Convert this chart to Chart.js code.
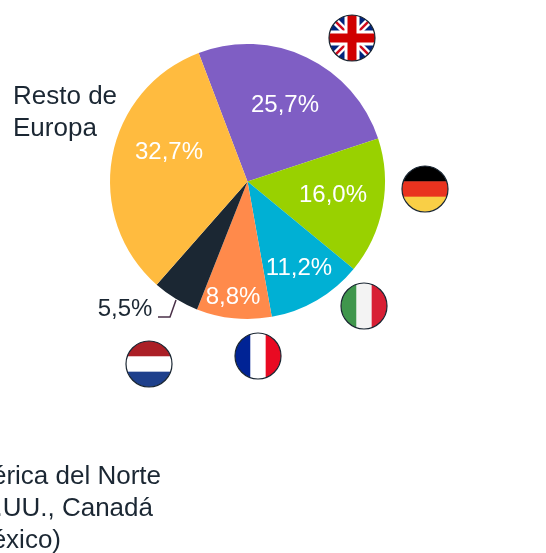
<!DOCTYPE html>
<html>
<head>
<meta charset="utf-8">
<style>
  html, body { margin: 0; padding: 0; background: #fff; overflow: hidden; }
  canvas { display: block; }
</style>
<script src="https://cdn.jsdelivr.net/npm/chart.js@4/dist/chart.umd.min.js"></script>
</head>
<body>
<canvas id="chart" width="546" height="553"></canvas>
<script>
// Data
const categories = ['Reino Unido', 'Alemania', 'Italia', 'Francia', 'Países Bajos', 'Resto de Europa'];
const shares = [25.7, 16.0, 11.2, 8.8, 5.5, 32.7];
const shareLabels = ['25,7%', '16,0%', '11,2%', '8,8%', '5,5%', '32,7%'];
const sliceColors = ['#7f5ec4', '#99d100', '#00b0d4', '#ff8a4b', '#1b2733', '#ffbb3f'];

const FONT = '"Liberation Sans", Arial, sans-serif';
const INK = '#1b2733';

// Waar de teksten staan, per taartpunt
const labelSpots = [[285, 105], [333, 195], [299, 268], [233, 297], [125, 309], [169, 152]];

function drawFlag(ctx, cx, cy, paint) {
    const r = 23;
    ctx.save();
    ctx.beginPath();
    ctx.arc(cx, cy, r, 0, Math.PI * 2);
    ctx.save();
    ctx.clip();
    paint(cx - r, cy - r, r * 2);
    ctx.restore();
    ctx.beginPath();
    ctx.arc(cx, cy, r, 0, Math.PI * 2);
    ctx.lineWidth = 1.2;
    ctx.strokeStyle = '#1b2733';
    ctx.stroke();
    ctx.restore();
}

function hStripes(ctx, colors) {
    return (x, y, s) => colors.forEach((c, i) => {
        ctx.fillStyle = c;
        ctx.fillRect(x, y + i * s / 3, s, s / 3 + 0.5);
    });
}

function vStripes(ctx, colors) {
    return (x, y, s) => colors.forEach((c, i) => {
        ctx.fillStyle = c;
        ctx.fillRect(x + i * s / 3, y, s / 3 + 0.5, s);
    });
}

function ukFlag(ctx) {
    return (x, y, s) => {
        const cx = x + s / 2, cy = y + s / 2;
        ctx.fillStyle = '#00247d';
        ctx.fillRect(x, y, s, s);
        const line = (x1, y1, x2, y2, w, c) => {
            ctx.beginPath();
            ctx.moveTo(x1, y1);
            ctx.lineTo(x2, y2);
            ctx.lineWidth = w;
            ctx.strokeStyle = c;
            ctx.stroke();
        };
        line(x, y, x + s, y + s, 7, '#fff');
        line(x + s, y, x, y + s, 7, '#fff');
        line(x, y, x + s, y + s, 2.5, '#cf0a1d');
        line(x + s, y, x, y + s, 2.5, '#cf0a1d');
        line(cx, y, cx, y + s, 15, '#fff');
        line(x, cy, x + s, cy, 15, '#fff');
        line(cx, y, cx, y + s, 9, '#d00000');
        line(x, cy, x + s, cy, 9, '#d00000');
    };
}

const annotations = {
    id: 'annotations',
    afterDraw(chart) {
        const ctx = chart.ctx;
        ctx.save();
        ctx.textBaseline = 'middle';
        ctx.textAlign = 'center';
        ctx.font = '24px ' + FONT;

        shareLabels.forEach((text, i) => {
            ctx.fillStyle = i === 4 ? INK : '#fff';
            ctx.fillText(text, labelSpots[i][0], labelSpots[i][1]);
        });

        // Verbindingslijn naar het kleine segment
        ctx.beginPath();
        ctx.moveTo(158, 317);
        ctx.lineTo(170, 317);
        ctx.lineTo(176, 300);
        ctx.lineWidth = 1.5;
        ctx.strokeStyle = '#4a3048';
        ctx.stroke();

        // Losse tekstblokken
        ctx.font = '26px ' + FONT;
        ctx.textBaseline = 'alphabetic';
        ctx.textAlign = 'left';
        ctx.fillStyle = INK;
        ctx.fillText('Resto de', 13, 104);
        ctx.fillText('Europa', 13, 136);
        ctx.textAlign = 'right';
        ctx.fillText('América del Norte', 161, 484);
        ctx.fillText('(EE.UU., Canadá', 153, 516);
        ctx.fillText('y México)', 61, 548);

        drawFlag(ctx, 352, 38, ukFlag(ctx));
        drawFlag(ctx, 425, 189, hStripes(ctx, ['#000000', '#e9331f', '#f9cf46']));
        drawFlag(ctx, 364, 306, vStripes(ctx, ['#3f964c', '#f3f3f3', '#d81f34']));
        drawFlag(ctx, 258, 356, vStripes(ctx, ['#002395', '#ffffff', '#e90a22']));
        drawFlag(ctx, 149, 364, hStripes(ctx, ['#ab1f26', '#ffffff', '#1e408c']));

        ctx.restore();
    }
};

new Chart(document.getElementById('chart'), {
    type: 'pie',
    data: {
        labels: categories,
        datasets: [{
            data: shares,
            backgroundColor: sliceColors,
            borderWidth: 0
        }]
    },
    options: {
        responsive: false,
        animation: false,
        rotation: -20.8,
        layout: { padding: { left: 110, top: 44, right: 161, bottom: 234 } },
        plugins: {
            legend: { display: false },
            tooltip: { enabled: false }
        }
    },
    plugins: [annotations]
});
</script>
</body>
</html>
